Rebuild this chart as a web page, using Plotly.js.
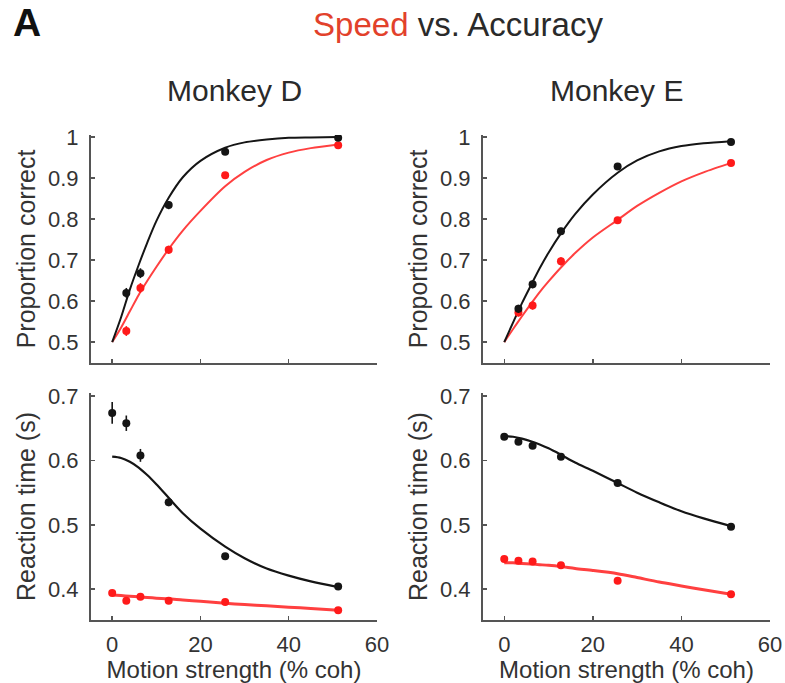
<!DOCTYPE html>
<html>
<head>
<meta charset="utf-8">
<script src="https://cdn.plot.ly/plotly-3.0.1.min.js"></script>
<style>html,body{margin:0;padding:0;background:#fff;}#chart{width:785px;height:683px;}</style>
</head>
<body>
<div id="chart"></div>
<script>
// ---- data ----
const cohAcc = [3.2, 6.4, 12.8, 25.6, 51.2];        // % coherence (accuracy panels)
const cohRT  = [0, 3.2, 6.4, 12.8, 25.6, 51.2];     // % coherence (RT panels)

// Monkey D - proportion correct
const accD_accuracy = [0.620, 0.668, 0.834, 0.964, 0.998];
const accD_accuracyErr = [0.012, 0.012, 0.010, 0.007, 0.003];
const accD_speed = [0.527, 0.632, 0.725, 0.907, 0.980];
const accD_speedErr = [0.012, 0.012, 0.010, 0.008, 0.004];
// Monkey E - proportion correct
const accE_accuracy = [0.581, 0.641, 0.770, 0.928, 0.988];
const accE_accuracyErr = [0.010, 0.010, 0.009, 0.006, 0.003];
const accE_speed = [0.572, 0.589, 0.697, 0.797, 0.937];
const accE_speedErr = [0.010, 0.010, 0.010, 0.008, 0.005];

// Monkey D - reaction time (s)
const rtD_accuracy = [0.674, 0.658, 0.608, 0.535, 0.451, 0.404];
const rtD_accuracyErr = [0.017, 0.012, 0.010, 0.006, 0.004, 0.003];
const rtD_speed = [0.394, 0.382, 0.388, 0.382, 0.380, 0.367];
const rtD_speedErr = [0.003, 0.003, 0.003, 0.003, 0.003, 0.003];
// Monkey E - reaction time (s)
const rtE_accuracy = [0.637, 0.629, 0.623, 0.606, 0.565, 0.497];
const rtE_accuracyErr = [0.004, 0.004, 0.004, 0.004, 0.003, 0.003];
const rtE_speed = [0.447, 0.444, 0.443, 0.437, 0.413, 0.392];
const rtE_speedErr = [0.003, 0.003, 0.003, 0.003, 0.003, 0.003];

// fitted curves
const fitX = [0, 2, 4, 6, 8, 10, 12.8, 16, 20, 25.6, 30, 35, 40, 45, 51.2];
const fitAccD_accuracy = [0.5, 0.56, 0.628, 0.688, 0.744, 0.795, 0.852, 0.902, 0.942, 0.974, 0.987, 0.994, 0.998, 0.999, 1.0];
const fitAccD_speed    = [0.5, 0.535, 0.575, 0.615, 0.65, 0.683, 0.727, 0.772, 0.82, 0.88, 0.915, 0.944, 0.962, 0.973, 0.982];
const fitAccE_accuracy = [0.5, 0.548, 0.595, 0.638, 0.68, 0.718, 0.765, 0.812, 0.86, 0.913, 0.943, 0.965, 0.978, 0.985, 0.99];
const fitAccE_speed    = [0.5, 0.532, 0.563, 0.593, 0.622, 0.648, 0.682, 0.717, 0.755, 0.798, 0.832, 0.864, 0.892, 0.914, 0.937];
const fitRtD_accuracy  = [0.606, 0.604, 0.598, 0.589, 0.577, 0.563, 0.542, 0.518, 0.494, 0.466, 0.448, 0.432, 0.421, 0.412, 0.403];
const fitRtD_speed     = [0.391, 0.390, 0.389, 0.388, 0.387, 0.386, 0.385, 0.383, 0.381, 0.378, 0.376, 0.374, 0.372, 0.370, 0.367];
const fitRtE_accuracy  = [0.638, 0.637, 0.634, 0.630, 0.625, 0.619, 0.609, 0.597, 0.584, 0.565, 0.550, 0.535, 0.521, 0.510, 0.498];
const fitRtE_speed     = [0.441, 0.441, 0.440, 0.439, 0.438, 0.437, 0.435, 0.432, 0.429, 0.424, 0.418, 0.411, 0.405, 0.399, 0.392];

const xTicks = [0, 20, 40, 60];
const accTicks = [0.5, 0.6, 0.7, 0.8, 0.9, 1];
const accTickText = ['0.5', '0.6', '0.7', '0.8', '0.9', '1'];
const rtTicks = [0.4, 0.5, 0.6, 0.7];
const rtTickText = ['0.4', '0.5', '0.6', '0.7'];

// ---- styling ----
const FONT = 'Liberation Sans, Arial, Helvetica, sans-serif';
const BLACK = '#151515';
const RED = '#ff1a1a';
const RED_LINE = '#ff4040';

function fit(x, y, xa, ya, color, width) {
  return {x: x, y: y, xaxis: xa, yaxis: ya, type: 'scatter', mode: 'lines',
          line: {color: color, width: width, shape: 'spline', smoothing: 0.8}, hoverinfo: 'skip'};
}
function pts(x, y, err, xa, ya, color) {
  return {x: x, y: y, xaxis: xa, yaxis: ya, type: 'scatter', mode: 'markers',
          marker: {color: color, size: 8},
          error_y: {type: 'data', array: err, visible: true, thickness: 1.6, width: 0, color: color}};
}

const traces = [
  fit(fitX, fitAccD_speed, 'x', 'y', RED_LINE, 2),
  fit(fitX, fitAccD_accuracy, 'x', 'y', BLACK, 2),
  pts(cohAcc, accD_speed, accD_speedErr, 'x', 'y', RED),
  pts(cohAcc, accD_accuracy, accD_accuracyErr, 'x', 'y', BLACK),

  fit(fitX, fitAccE_speed, 'x2', 'y2', RED_LINE, 2),
  fit(fitX, fitAccE_accuracy, 'x2', 'y2', BLACK, 2),
  pts(cohAcc, accE_speed, accE_speedErr, 'x2', 'y2', RED),
  pts(cohAcc, accE_accuracy, accE_accuracyErr, 'x2', 'y2', BLACK),

  fit(fitX, fitRtD_speed, 'x3', 'y3', RED_LINE, 3),
  fit(fitX, fitRtD_accuracy, 'x3', 'y3', BLACK, 2.2),
  pts(cohRT, rtD_speed, rtD_speedErr, 'x3', 'y3', RED),
  pts(cohRT, rtD_accuracy, rtD_accuracyErr, 'x3', 'y3', BLACK),

  fit(fitX, fitRtE_speed, 'x4', 'y4', RED_LINE, 3),
  fit(fitX, fitRtE_accuracy, 'x4', 'y4', BLACK, 2.2),
  pts(cohRT, rtE_speed, rtE_speedErr, 'x4', 'y4', RED),
  pts(cohRT, rtE_accuracy, rtE_accuracyErr, 'x4', 'y4', BLACK)
];

const W = 785, H = 683;
const tickFont = {family: FONT, size: 22, color: '#333'};
const yTitleFont = {family: FONT, size: 25, color: '#333'};
const xTitleFont = {family: FONT, size: 24, color: '#333'};

function xAxis(domain, showLabels, anchor) {
  const a = {domain: domain, anchor: anchor, range: [-4.8, 60], tickvals: xTicks,
    showline: true, linecolor: '#555', linewidth: 2, ticks: 'inside', ticklen: 4, tickwidth: 1.5, tickcolor: '#555',
    showgrid: false, zeroline: false, showticklabels: showLabels, tickfont: tickFont, ticklabelstandoff: 4};
  if (showLabels) a.title = {text: 'Motion strength (% coh)', font: xTitleFont, standoff: 6};
  return a;
}
function yAxis(domain, range, tv, tt, title, anchor) {
  return {domain: domain, anchor: anchor, range: range, tickvals: tv, ticktext: tt,
    showline: true, linecolor: '#555', linewidth: 2, ticks: 'inside', ticklen: 4, tickwidth: 1.5, tickcolor: '#555',
    showgrid: false, zeroline: false, tickfont: tickFont, ticklabelstandoff: 6,
    title: {text: title, font: yTitleFont, standoff: 5}};
}

const xL = [91 / W, 377 / W], xR = [483 / W, 770 / W];
const yTop = [1 - 363 / H, 1 - 135 / H], yBot = [1 - 620 / H, 1 - 393 / H];

const layout = {
  width: W, height: H, margin: {l: 0, r: 0, t: 0, b: 0},
  paper_bgcolor: '#fff', plot_bgcolor: '#fff', showlegend: false,
  font: {family: FONT, color: '#222'},
  title: {text: '<span style="color:#e2412b">Speed</span> vs. Accuracy',
          font: {family: FONT, size: 33, color: '#2a2a2a'},
          x: 458 / W, xanchor: 'center', xref: 'container', y: 1 - 24 / H, yanchor: 'middle', yref: 'container'},
  xaxis: xAxis(xL, false, 'y'),
  yaxis: yAxis(yTop, [0.449, 1.005], accTicks, accTickText, 'Proportion correct', 'x'),
  xaxis2: xAxis(xR, false, 'y2'),
  yaxis2: yAxis(yTop, [0.449, 1.005], accTicks, accTickText, 'Proportion correct', 'x2'),
  xaxis3: xAxis(xL, true, 'y3'),
  yaxis3: yAxis(yBot, [0.352, 0.705], rtTicks, rtTickText, 'Reaction time (s)', 'x3'),
  xaxis4: xAxis(xR, true, 'y4'),
  yaxis4: yAxis(yBot, [0.352, 0.705], rtTicks, rtTickText, 'Reaction time (s)', 'x4'),
  annotations: [
    {text: '<b>A</b>', xref: 'paper', yref: 'paper', x: 11 / W, y: 1 - 23 / H, xanchor: 'left', yanchor: 'middle',
     showarrow: false, font: {family: FONT, size: 39, color: '#111'}},
    {text: 'Monkey D', xref: 'paper', yref: 'paper', x: 234 / W, y: 1 - 90 / H, xanchor: 'center', yanchor: 'middle',
     showarrow: false, font: {family: FONT, size: 30, color: '#2a2a2a'}},
    {text: 'Monkey E', xref: 'paper', yref: 'paper', x: 616 / W, y: 1 - 90 / H, xanchor: 'center', yanchor: 'middle',
     showarrow: false, font: {family: FONT, size: 30, color: '#2a2a2a'}}
  ]
};

Plotly.newPlot('chart', traces, layout, {staticPlot: true, displayModeBar: false});
</script>
</body>
</html>
